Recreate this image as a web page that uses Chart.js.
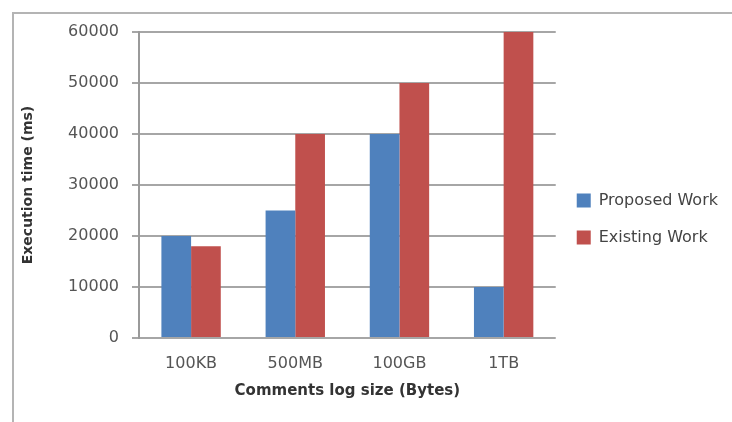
<!DOCTYPE html>
<html>
<head>
<meta charset="UTF-8">
<title>Execution time chart</title>
<script src="https://cdn.jsdelivr.net/npm/chart.js"></script>
<style>
  html, body { margin: 0; padding: 0; background: #fff; }
  #wrap { width: 732px; height: 422px; position: relative; }
</style>
</head>
<body>
<div id="wrap"><canvas id="chart" width="732" height="422"></canvas></div>
<script>
// --- data ---
const categories = ['100KB', '500MB', '100GB', '1TB'];
const proposedWork = [20000, 25000, 40000, 10000];
const existingWork = [18000, 40000, 50000, 60000];
const seriesNames = ['Proposed Work', 'Existing Work'];
const yTicks = [0, 10000, 20000, 30000, 40000, 50000, 60000];

const FONT = "'DejaVu Sans', sans-serif";
const TEXT = '#555555';

// outer frame (left + top edges like the cropped original)
const framePlugin = {
    id: 'frame',
    beforeDraw(chart) {
        const c = chart.ctx;
        c.save();
        c.strokeStyle = '#b4b4b4';
        c.lineWidth = 2;
        c.beginPath();
        c.moveTo(13, 422);
        c.lineTo(13, 13);
        c.lineTo(732, 13);
        c.stroke();
        c.restore();
    }
};

new Chart(document.getElementById('chart'), {
    type: 'bar',
    data: {
        labels: categories,
        datasets: [
            { label: seriesNames[0], data: proposedWork, backgroundColor: '#4f81bd' },
            { label: seriesNames[1], data: existingWork, backgroundColor: '#c0504d' }
        ]
    },
    options: {
        responsive: false,
        animation: false,
        layout: { padding: { left: 16, top: 32, right: 4, bottom: 16 } },
        datasets: { bar: { categoryPercentage: 0.57, barPercentage: 1.0 } },
        scales: {
            x: {
                afterFit(scale) { scale.height = 68; },
                grid: { display: false },
                border: { display: false },
                ticks: { color: TEXT, font: { family: FONT, size: 16 }, padding: 8 },
                title: { display: true, text: 'Comments log size (Bytes)', color: '#333', font: { family: FONT, size: 15, weight: 'bold' }, padding: { top: 0, bottom: 6 } }
            },
            y: {
                min: 0,
                max: 60000,
                afterBuildTicks(scale) { scale.ticks = yTicks.map(v => ({ value: v })); },
                afterFit(scale) { scale.width = 123; },
                grid: { color: '#a6a6a6', lineWidth: 2, tickLength: 7 },
                border: { color: '#9a9a9a', width: 2 },
                ticks: { color: TEXT, font: { family: FONT, size: 16 }, padding: 13, callback: v => String(v) },
                title: { display: true, text: 'Execution time (ms)', color: '#333', font: { family: FONT, size: 14, weight: 'bold' }, padding: { top: 4, bottom: 0 } }
            }
        },
        plugins: {
            legend: {
                position: 'right',
                labels: { boxWidth: 14, boxHeight: 14, padding: 21, color: '#444', font: { family: FONT, size: 16 } }
            },
            tooltip: { enabled: false }
        }
    },
    plugins: [framePlugin]
});
</script>
</body>
</html>
